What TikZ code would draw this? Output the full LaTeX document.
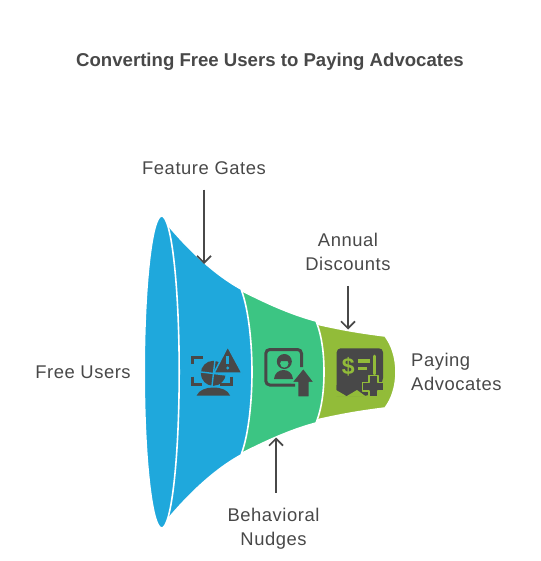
\documentclass[tikz,border=0pt]{standalone}
\usepackage{fontspec}
\setmainfont{Liberation Sans}
\newfontfamily\labelfont[LetterSpace=3]{Liberation Sans}
\usetikzlibrary{arrows.meta}
\definecolor{funnelblue}{HTML}{1FA8DC}
\definecolor{funnelgreen}{HTML}{3CC583}
\definecolor{funnelolive}{HTML}{92BC39}
\definecolor{inkgrey}{HTML}{484848}
\tikzset{
	labeltext/.style={inner sep=0pt, text=inkgrey, align=center, font=\labelfont\fontsize{18.4}{24}\selectfont},
	titletext/.style={inner sep=0pt, text=inkgrey, font=\fontsize{18.6}{24}\selectfont\bfseries},
	funnelpart/.style={draw=white, line width=1.6pt},
	flowarrow/.style={draw=inkgrey, line width=1.7pt, -{Straight Barb[length=7pt,width=14pt]}},
	iconline/.style={draw=inkgrey, line width=3pt},
	iconfill/.style={fill=inkgrey, line join=round}
}
\begin{document}
\begin{tikzpicture}[x=1pt, y=-1pt]
	\useasboundingbox (0,0) rectangle (540,561);

	% Funnel
	\path[funnelpart, fill=funnelolive] (300,320) .. controls (340,330) and (362,333) .. (385,336) .. controls (392,345) and (396,358) .. (396,372) .. controls (396,386) and (392,399) .. (385,408) .. controls (362,411) and (340,414) .. (300,424) -- cycle;
	\path[funnelpart, fill=funnelgreen] (225,282) .. controls (265,303) and (290,314) .. (316,321) .. controls (322,336) and (324,354) .. (324,372) .. controls (324,390) and (322,408) .. (316,423) .. controls (290,430) and (265,441) .. (225,462) -- cycle;
	\path[funnelpart, fill=funnelblue] (163,219) .. controls (185,246) and (212,273) .. (241,289) .. controls (249,310) and (252,345) .. (252,372) .. controls (252,399) and (249,434) .. (241,455) .. controls (212,471) and (185,498) .. (163,525) -- cycle;
	\path[funnelpart, fill=funnelblue] (161.7,372) ellipse [x radius=17.5, y radius=156];

	% Icon gates
	\draw[iconline] (192.7,364) -- (192.7,357) -- (203,357);
	\draw[iconline] (192.7,376.5) -- (192.7,384.3) -- (202,384.3);
	\draw[iconline] (231.7,376.5) -- (231.7,384.3) -- (220,384.3);
	\fill[iconfill] (213.3,373.3) circle (12.5);
	\draw[funnelblue, line width=1.4pt] (215,360) -- (212,386);
	\draw[funnelblue, line width=1.4pt] (201,372) -- (226,375);
	\path[iconfill, draw=funnelblue, line width=1.5pt] (227.7,346.5) -- (214,373) -- (242,373) -- cycle;
	\draw[funnelblue, line width=2.6pt] (227.7,356) -- (227.7,363.5);
	\fill[funnelblue] (227.7,368) circle (1.7);
	\fill[iconfill] (196.7,395.5) .. controls (199,390) and (206,387.5) .. (213.3,387.5) .. controls (221,387.5) and (228,390) .. (230,395.5) -- cycle;

	% Icon nudges
	\draw[iconline, rounded corners=4pt] (295,385) -- (265.8,385) -- (265.8,349.5) -- (301.5,349.5) -- (301.5,367);
	\fill[iconfill] (284.3,361.5) circle (7.5);
	\fill[funnelgreen] (284.3,363.5) circle (4.2);
	\fill[iconfill] (279.5,361) -- (284.3,356.5) -- (289,361) -- cycle;
	\fill[iconfill] (274,379) .. controls (274.5,373) and (279,370) .. (283.5,370) .. controls (288,370) and (292.5,373) .. (293,379) -- cycle;
	\path[iconfill, draw=funnelgreen, line width=1.5pt] (303.3,368) -- (291.5,382.5) -- (297.5,382.5) -- (297.5,397) -- (309.3,397) -- (309.3,382.5) -- (314.5,382.5) -- cycle;

	% Icon discounts
	\path[iconfill, rounded corners=4pt] (336.7,396) -- (336.7,348.3) -- (383,348.3) -- (383,382) -- (368,396) -- (358,396);
	\fill[iconfill] (336.7,394) -- (336.7,385) -- (370,385) -- (366,395.5) -- (357,389.5) -- (346,395.5) -- (337,389) -- cycle;
	\fill[funnelolive] (336,390) -- (336,396.5) -- (345.5,396.5) -- (345.5,395.5) -- cycle;
	\fill[funnelolive] (346,396.5) -- (357,390) -- (366,396.5) -- cycle;
	\draw[funnelolive, line width=2.8pt, line cap=round] (374.6,356) -- (374.6,374);
	\draw[funnelolive, line width=3.4pt] (358,361) -- (370,361);
	\draw[funnelolive, line width=3.4pt] (358,368.3) -- (367,368.3);
	\node (dollar) at (348.2,367) [inner sep=0pt, text=funnelolive, font=\fontsize{23}{23}\selectfont\bfseries] {\$};
	\path[iconfill, draw=funnelolive, line width=1.5pt] (369,375.5) -- (377.8,375.5) -- (377.8,382.5) -- (384,382.5) -- (384,391) -- (377.8,391) -- (377.8,397) -- (369,397) -- (369,391) -- (362.5,391) -- (362.5,382.5) -- (369,382.5) -- cycle;

	% Labels
	\node (title) at (270,61.5) [titletext] {Converting Free Users to Paying Advocates};
	\node (freeusers) at (83,372) [labeltext] {Free Users};
	\node (gates) at (204,168) [labeltext] {Feature Gates};
	\node (discounts) at (348,252) [labeltext] {Annual\\Discounts};
	\node (nudges) at (273.5,528.5) [labeltext] {Behavioral\\Nudges};
	\node (advocates) at (411,372) [labeltext, anchor=west, align=left] {Paying\\Advocates};
	\coordinate (gatestip) at (204,264);
	\coordinate (discountstip) at (348,329.5);
	\coordinate (nudgestip) at (276,437.5);

	% Arrows
	\draw[flowarrow, shorten <=15pt] (gates.south) -- (gatestip);
	\draw[flowarrow, shorten <=15pt] (discounts.south) -- (discountstip);
	\draw[flowarrow, shorten <=15pt] (nudges.north -| nudgestip) -- (nudgestip);
\end{tikzpicture}
\end{document}
